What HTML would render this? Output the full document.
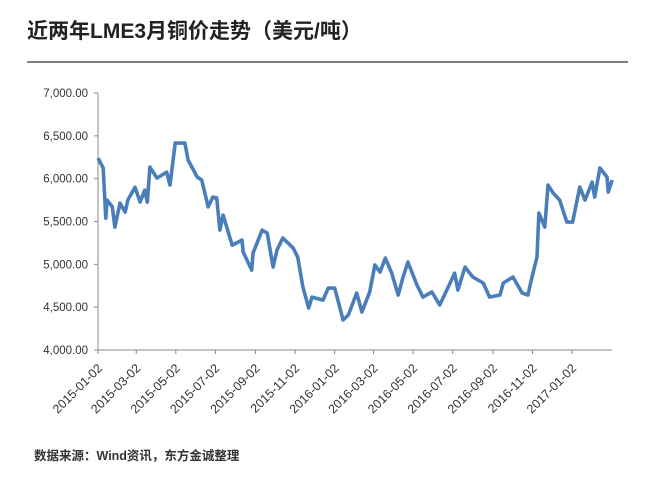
<!DOCTYPE html>
<html><head><meta charset="utf-8"><style>
body{margin:0;background:#fff;width:659px;height:476px;overflow:hidden;font-family:"Liberation Sans","Noto Sans CJK SC",sans-serif}
</style></head><body>
<svg width="659" height="476" xmlns="http://www.w3.org/2000/svg">
<text x="27" y="38" font-size="21" font-weight="bold" fill="#222" font-family="Liberation Sans, Noto Sans CJK SC, sans-serif">近两年LME3月铜价走势（美元/吨）</text>
<line x1="27" y1="62" x2="628" y2="62" stroke="#333" stroke-width="1.2"/>
<g id="axes"></g>
<path id="line" fill="none" stroke="#4a7ebb" stroke-width="3.6" stroke-linejoin="round"/>
<text x="34" y="460" font-size="12.5" font-weight="bold" fill="#333" font-family="Liberation Sans, Noto Sans CJK SC, sans-serif">数据来源：Wind资讯，东方金诚整理</text>
</svg>
<script>
const dayOffsets=[0,8,12,14,22,26,34,42,46,57,65,72,76,80,91,106,111,119,134,139,153,160,170,177,183,188,193,207,222,224,237,239,253,261,270,276,285,301,308,316,325,330,347,355,365,378,386,399,407,419,427,435,443,453,463,470,478,492,501,515,527,543,550,555,566,578,594,604,620,625,640,654,663,669,677,680,689,694,702,712,723,732,743,751,762,766,774,785,787,793];
const prices=[6240,6124,5540,5750,5670,5435,5715,5610,5750,5900,5727,5867,5727,6135,6007,6077,5925,6415,6415,6217,6020,5985,5670,5785,5775,5400,5575,5225,5283,5143,4933,5130,5400,5365,4968,5167,5307,5190,5085,4735,4490,4618,4583,4723,4723,4350,4408,4665,4443,4677,4992,4910,5073,4898,4642,4840,5027,4758,4618,4677,4525,4782,4898,4700,4968,4852,4782,4618,4642,4782,4852,4665,4642,4840,5085,5598,5435,5925,5832,5750,5493,5493,5902,5750,5960,5785,6124,6020,5843,5985];
const yTicks=[4000,4500,5000,5500,6000,6500,7000];
const yTickLabels=["4,000.00","4,500.00","5,000.00","5,500.00","6,000.00","6,500.00","7,000.00"];
const xTickDays=[0,59,120,181,243,304,365,425,486,547,609,670,731];
const xTickLabels=["2015-01-02","2015-03-02","2015-05-02","2015-07-02","2015-09-02","2015-11-02","2016-01-02","2016-03-02","2016-05-02","2016-07-02","2016-09-02","2016-11-02","2017-01-02"];
const X0=98,X1=612,Y0=350,Y1=93;
const xs=d=>X0+d*(572-98)/731;
const ys=v=>Y0-(v-4000)*(Y0-Y1)/3000;
const NS="http://www.w3.org/2000/svg";
const ax=document.getElementById('axes');
function mk(t,a){const e=document.createElementNS(NS,t);for(const k in a)e.setAttribute(k,a[k]);ax.appendChild(e);return e;}
let e=mk('line',{x1:X0,y1:Y1,x2:X0,y2:Y0,stroke:'#888'});


e=mk('line',{x1:X0,y1:Y0,x2:X1,y2:Y0,stroke:'#888'});


yTicks.forEach((v,i)=>{
 const y=ys(v);
 let t=mk('line',{x1:X0-4,y1:y,x2:X0,y2:y,stroke:'#888'});
 
 
 let l=mk('text',{x:X0-10,y:y+4,'text-anchor':'end','font-size':'11.5',fill:'#333'});
 l.textContent=yTickLabels[i];
 
 
});
xTickDays.forEach((d,i)=>{
 const x=xs(d);
 let t=mk('line',{x1:x,y1:Y0,x2:x,y2:Y0+4,stroke:'#888'});
 
 
 let l=mk('text',{x:x+5,y:Y0+19,'text-anchor':'end','font-size':'12.5',fill:'#333',transform:`rotate(-45 ${x+5} ${Y0+19})`});
 l.textContent=xTickLabels[i];
 
 
});
document.getElementById('line').setAttribute('d',dayOffsets.map((d,i)=>(i?'L':'M')+xs(d).toFixed(1)+','+ys(prices[i]).toFixed(1)).join(''));
</script>
</body></html>
